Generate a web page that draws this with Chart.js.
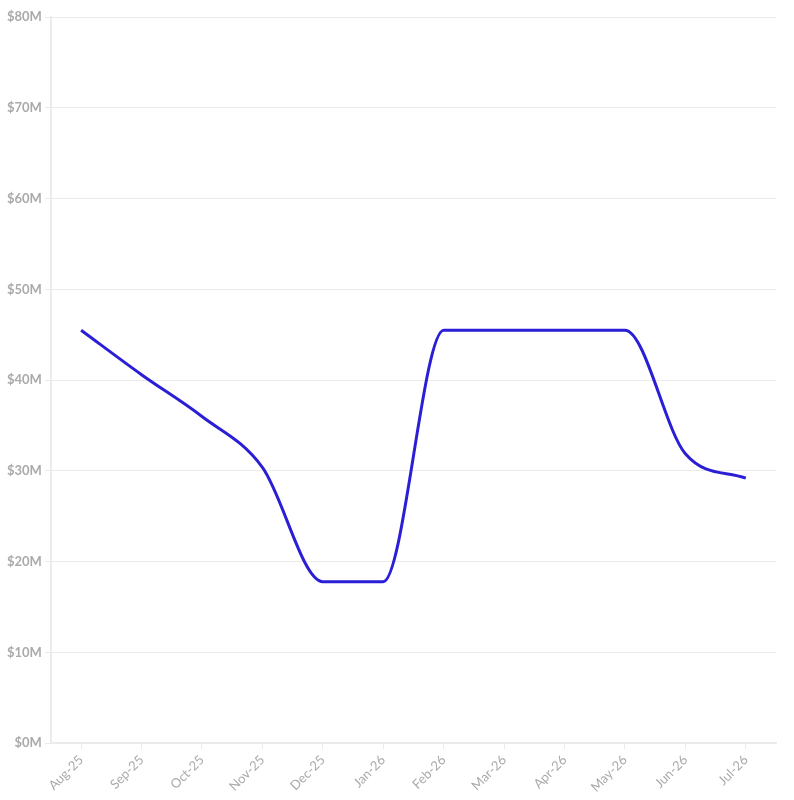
<!DOCTYPE html>
<html>
<head>
<meta charset="utf-8">
<script src="https://cdn.jsdelivr.net/npm/chart.js@4/dist/chart.umd.min.js"></script>
<style>
  html, body { margin: 0; padding: 0; background: #fff; }
  #wrap { width: 794px; height: 800px; position: relative; }
</style>
</head>
<body>
<div id="wrap"><canvas id="chart"></canvas></div>
<script>
// Mois affichés sur l'axe X
var months = ['Aug-25', 'Sep-25', 'Oct-25', 'Nov-25', 'Dec-25', 'Jan-26',
              'Feb-26', 'Mar-26', 'Apr-26', 'May-26', 'Jun-26', 'Jul-26'];

// Valeurs en millions de dollars
var values = [45.5, 40.6, 36.0, 30.4, 17.8, 17.8,
              45.5, 45.5, 45.5, 45.5, 31.9, 29.2];

var yMin = 0;
var yMax = 80;
var yStep = 10;

var lineColor = '#2b1fd6';
var labelColor = '#aaaaaa';
var gridColor = '#ebebeb';

new Chart(document.getElementById('chart'), {
    type: 'line',
    data: {
        labels: months,
        datasets: [{
            data: values,
            borderColor: lineColor,
            borderWidth: 3,
            pointRadius: 0,
            fill: false,
            cubicInterpolationMode: 'monotone'
        }]
    },
    options: {
        responsive: true,
        maintainAspectRatio: false,
        animation: false,
        layout: { padding: { top: 17, right: 18, left: 4, bottom: 2 } },
        plugins: {
            legend: { display: false },
            tooltip: { enabled: false }
        },
        scales: {
            x: {
                offset: true,
                grid: { drawOnChartArea: false, color: gridColor, tickLength: 6 },
                border: { color: gridColor, width: 2 },
                ticks: {
                    color: labelColor,
                    maxRotation: 45,
                    minRotation: 45,
                    font: { family: 'Lato', size: 13 }
                }
            },
            y: {
                min: yMin,
                max: yMax,
                grid: { color: gridColor, tickLength: 6 },
                border: { color: gridColor, width: 2 },
                ticks: {
                    stepSize: yStep,
                    color: labelColor,
                    font: { family: 'Lato', size: 13, weight: 'bold' },
                    callback: function(v) { return '$' + v + 'M'; }
                }
            }
        }
    }
});
</script>
</body>
</html>
